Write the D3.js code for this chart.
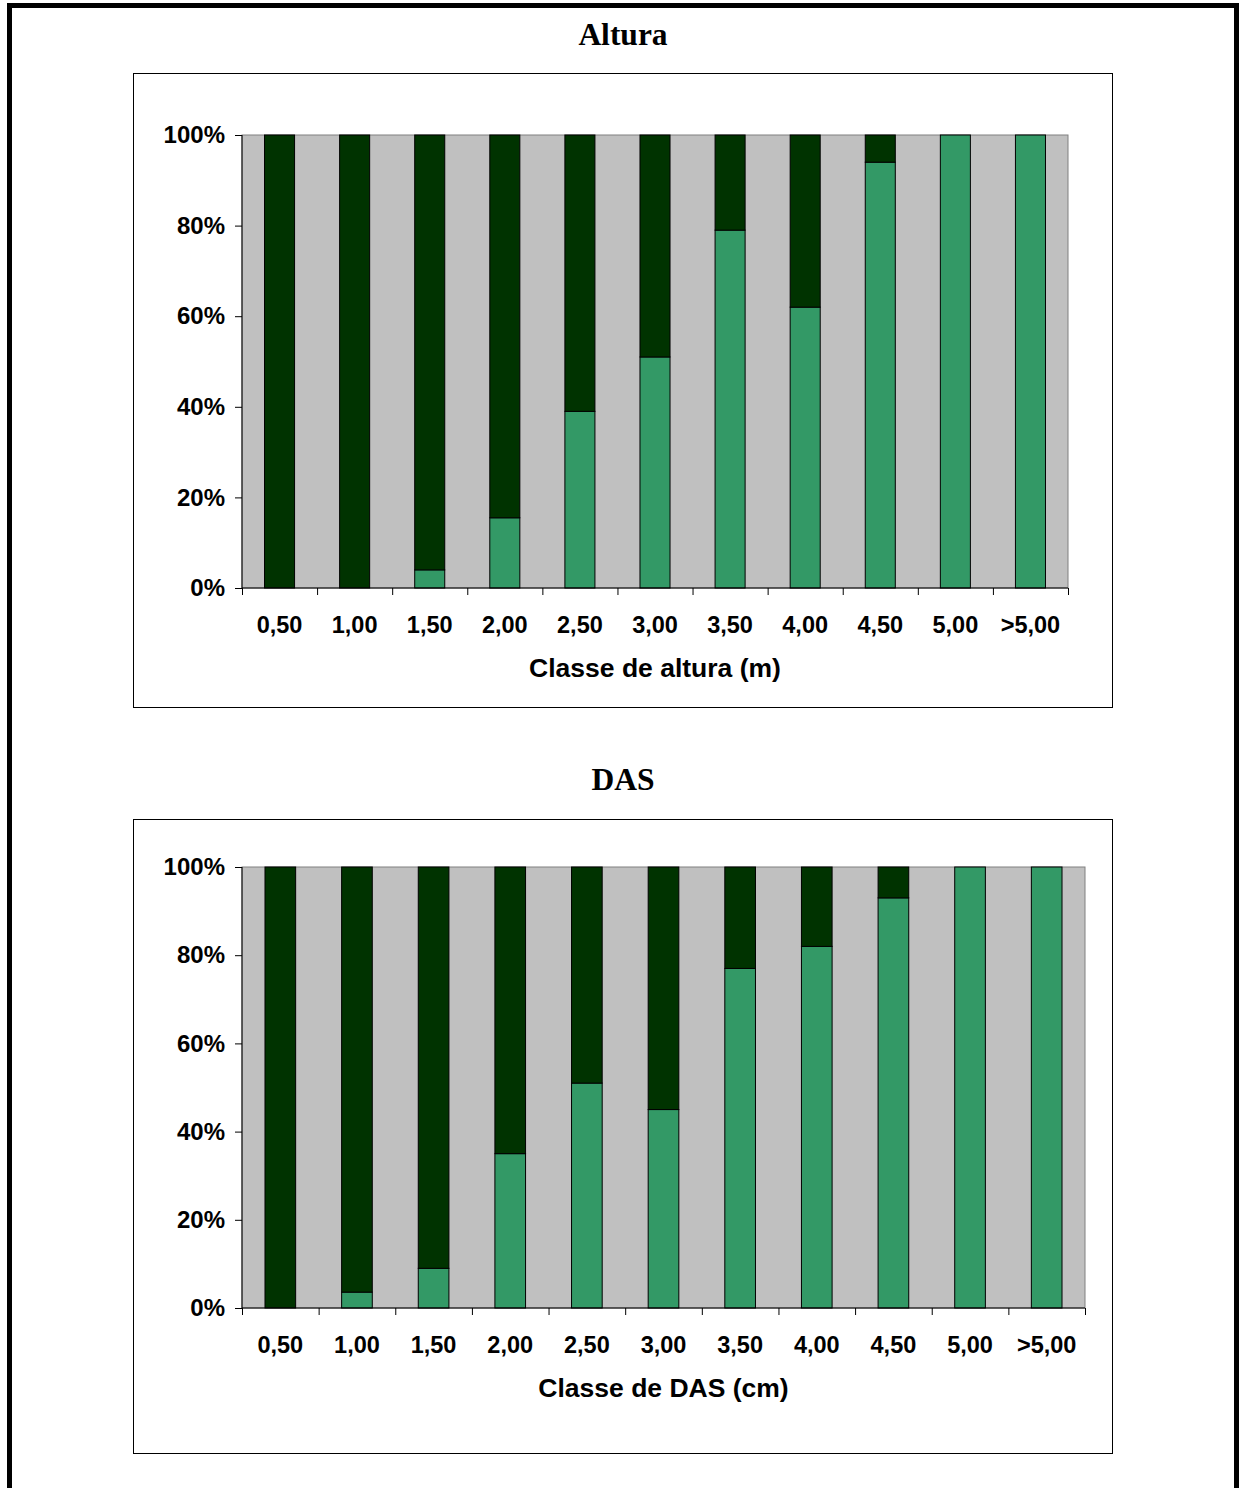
<!DOCTYPE html>
<html>
<head>
<meta charset="utf-8">
<script src="https://cdn.jsdelivr.net/npm/d3@7"></script>
<style>
  body { margin: 0; background: #fff; }
  svg { display: block; }
</style>
</head>
<body>
<div id="chart"></div>
<script>
// categories (same for both charts)
var classes = ["0,50", "1,00", "1,50", "2,00", "2,50", "3,00", "3,50", "4,00", "4,50", "5,00", ">5,00"];

// Altura: % in lower (light green) and upper (dark green) part of each bar
var alturaLight = [0, 0, 4, 15.5, 39, 51, 79, 62, 94, 100, 100];
var alturaDark = [100, 100, 96, 84.5, 61, 49, 21, 38, 6, 0, 0];

// DAS
var dasLight = [0, 3.6, 9, 35, 51, 45, 77, 82, 93, 100, 100];
var dasDark = [100, 96.4, 91, 65, 49, 55, 23, 18, 7, 0, 0];

var yTicks = [0, 20, 40, 60, 80, 100];

var colLight = "#339966";
var colDark = "#003300";
var colPlot = "#c0c0c0";

var svg = d3.select("#chart")
  .append("svg")
  .attr("width", 1239)
  .attr("height", 1488);

// thick outer border (bottom edge runs off the page)
svg.append("rect")
  .attr("x", 9.5).attr("y", 5.5)
  .attr("width", 1227).attr("height", 1510)
  .attr("fill", "none")
  .attr("stroke", "#000")
  .attr("stroke-width", 5);

function drawChart(opt) {
  var light = opt.light, dark = opt.dark;
  var rows = classes.map(function(c, i) {
    return { cls: c, light: light[i], dark: dark[i] };
  });
  var series = d3.stack().keys(["light", "dark"])(rows);

  // title
  svg.append("text")
    .attr("x", 623).attr("y", opt.titleY)
    .attr("text-anchor", "middle")
    .style("font-family", "'Liberation Serif', 'Times New Roman', serif")
    .style("font-weight", "bold")
    .style("font-size", "31.5px")
    .text(opt.title);

  // chart frame
  svg.append("rect")
    .attr("x", 133.5).attr("y", opt.frameY + 0.5)
    .attr("width", 979).attr("height", 634)
    .attr("fill", "#fff")
    .attr("stroke", "#000")
    .attr("stroke-width", 1);

  var x = d3.scaleBand()
    .domain(classes)
    .range([opt.left, opt.right])
    .paddingInner(0.6)
    .paddingOuter(0.3);

  var xEdge = d3.scaleLinear()
    .domain([0, classes.length])
    .range([opt.left, opt.right]);

  var y = d3.scaleLinear()
    .domain([0, 100])
    .range([opt.bottom, opt.top]);

  var g = svg.append("g");

  // plot area
  g.append("rect")
    .attr("x", opt.left).attr("y", opt.top)
    .attr("width", opt.right - opt.left)
    .attr("height", opt.bottom - opt.top)
    .attr("fill", colPlot)
    .attr("stroke", "#808080")
    .attr("stroke-width", 1);

  // bars
  var layer = g.selectAll(".layer")
    .data(series)
    .enter().append("g")
    .attr("class", "layer")
    .attr("fill", function(d) { return d.key == "light" ? colLight : colDark; });

  layer.selectAll("rect")
    .data(function(d) { return d.filter(function(p) { return p[1] - p[0] > 0; }); })
    .enter().append("rect")
    .attr("x", function(d) { return x(d.data.cls); })
    .attr("width", x.bandwidth())
    .attr("y", function(d) { return y(d[1]); })
    .attr("height", function(d) { return y(d[0]) - y(d[1]); })
    .attr("stroke", "#000")
    .attr("stroke-width", 1);

  var fontAxis = "'Liberation Sans', Arial, sans-serif";

  // y axis
  var yAxis = g.append("g")
    .attr("transform", "translate(" + opt.left + ",0)")
    .call(d3.axisLeft(y)
      .tickValues(yTicks)
      .tickSize(7)
      .tickPadding(10)
      .tickFormat(function(d) { return d + "%"; }));
  yAxis.select(".domain").attr("stroke", "#000").attr("d", "M0," + opt.top + "V" + opt.bottom);
  yAxis.selectAll("text")
    .style("font-family", fontAxis)
    .style("font-weight", "bold")
    .style("font-size", "24px")
    .attr("fill", "#000");

  // x axis: ticks at category boundaries
  var xAxis = g.append("g")
    .attr("transform", "translate(0," + opt.bottom + ")")
    .call(d3.axisBottom(xEdge)
      .tickValues(d3.range(classes.length + 1))
      .tickSize(7)
      .tickFormat(""));
  xAxis.select(".domain").attr("d", "M" + opt.left + ",0H" + opt.right);

  // x labels
  g.selectAll(".xlabel")
    .data(classes)
    .enter().append("text")
    .attr("class", "xlabel")
    .attr("x", function(d) { return x(d) + x.bandwidth() / 2; })
    .attr("y", opt.bottom + 45)
    .attr("text-anchor", "middle")
    .style("font-family", fontAxis)
    .style("font-weight", "bold")
    .style("font-size", "23.5px")
    .text(function(d) { return d; });

  // x axis title
  g.append("text")
    .attr("x", (opt.left + opt.right) / 2)
    .attr("y", opt.bottom + 89)
    .attr("text-anchor", "middle")
    .style("font-family", fontAxis)
    .style("font-weight", "bold")
    .style("font-size", "26.5px")
    .text(opt.xTitle);
}

drawChart({
  title: "Altura", titleY: 45, frameY: 73,
  left: 242, right: 1068, top: 135, bottom: 588,
  light: alturaLight, dark: alturaDark,
  xTitle: "Classe de altura (m)"
});

drawChart({
  title: "DAS", titleY: 790, frameY: 819,
  left: 242, right: 1085, top: 867, bottom: 1308,
  light: dasLight, dark: dasDark,
  xTitle: "Classe de DAS (cm)"
});
</script>
</body>
</html>
